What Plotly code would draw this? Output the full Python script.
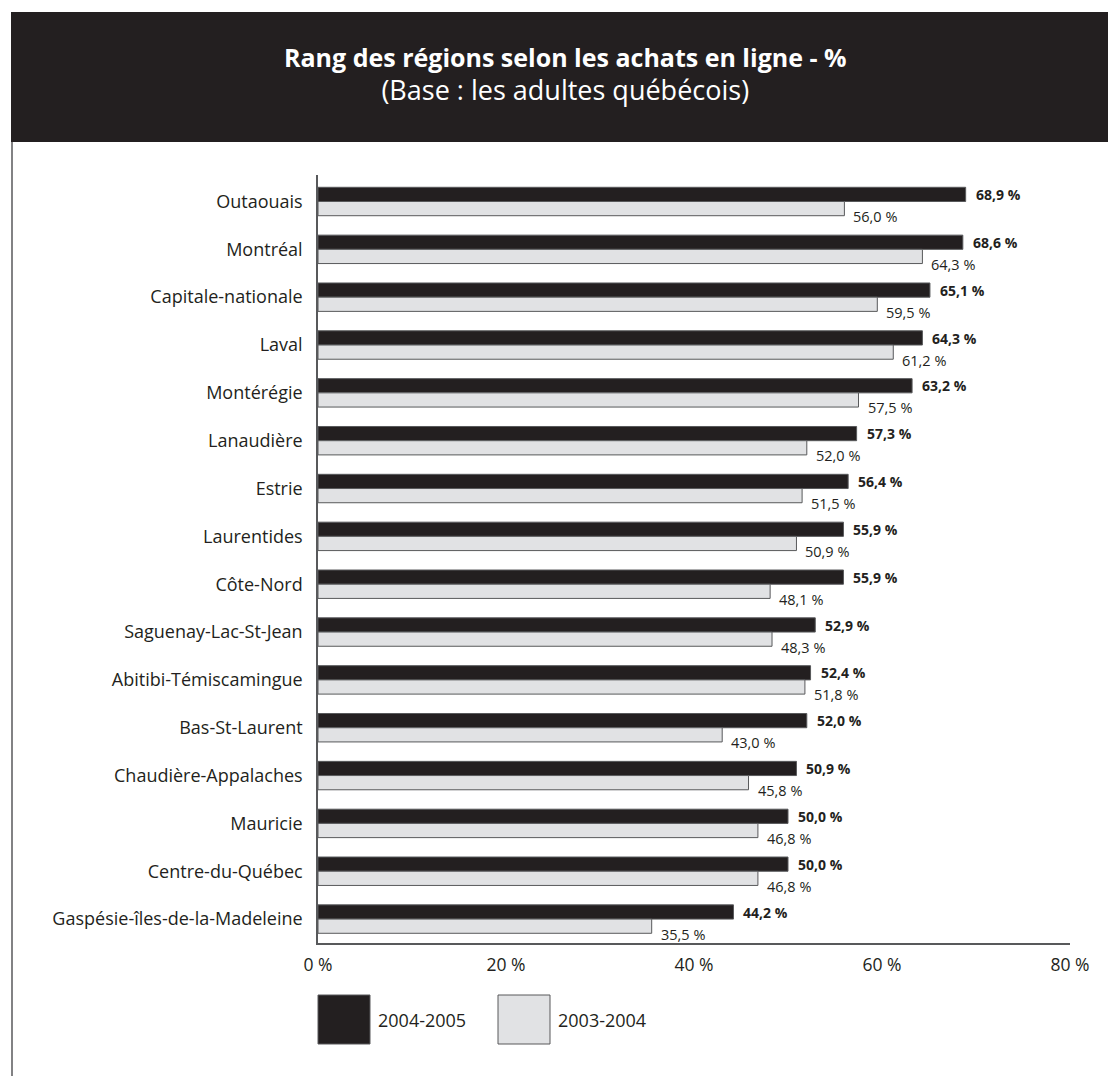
import plotly.graph_objects as go

# ---------------- data ----------------
regions = [
    "Outaouais", "Montréal", "Capitale-nationale", "Laval", "Montérégie",
    "Lanaudière", "Estrie", "Laurentides", "Côte-Nord", "Saguenay-Lac-St-Jean",
    "Abitibi-Témiscamingue", "Bas-St-Laurent", "Chaudière-Appalaches",
    "Mauricie", "Centre-du-Québec", "Gaspésie-îles-de-la-Madeleine",
]
values_2004_2005 = [68.9, 68.6, 65.1, 64.3, 63.2, 57.3, 56.4, 55.9, 55.9,
                    52.9, 52.4, 52.0, 50.9, 50.0, 50.0, 44.2]
values_2003_2004 = [56.0, 64.3, 59.5, 61.2, 57.5, 52.0, 51.5, 50.9, 48.1,
                    48.3, 51.8, 43.0, 45.8, 46.8, 46.8, 35.5]
series_names = ["2004-2005", "2003-2004"]
tick_values = [0, 20, 40, 60, 80]
tick_labels = ["0 %", "20 %", "40 %", "60 %", "80 %"]
title_text = "Rang des régions selon les achats en ligne - %"
subtitle_text = "(Base : les adultes québécois)"

# ---------------- styling ----------------
W, H = 1108, 1076
PL, PR, PT, PB = 318, 1070, 175, 943
DARK = "#231f20"
LIGHT = "#e1e2e4"
EDGE = "#58595b"
FONT = "Open Sans"


def px(x):
    return (x - PL) / (PR - PL)


def py(y):
    return (PB - y) / (PB - PT)


def fmt(v):
    return f"{v:.1f}".replace(".", ",") + " %"


fig = go.Figure()
fig.add_trace(go.Bar(
    y=regions, x=values_2004_2005, name=series_names[0], orientation="h",
    marker=dict(color=DARK, line=dict(color=EDGE, width=1)),
))
fig.add_trace(go.Bar(
    y=regions, x=values_2003_2004, name=series_names[1], orientation="h",
    marker=dict(color=LIGHT, line=dict(color=EDGE, width=1)),
))

annotations = []
for r, v in zip(regions, values_2004_2005):
    annotations.append(dict(
        x=v, y=r, xref="x", yref="y", text=f"<b>{fmt(v)}</b>", showarrow=False,
        xanchor="left", yanchor="middle", xshift=8, yshift=7,
        font=dict(family=FONT, size=14, color=DARK),
    ))
for r, v in zip(regions, values_2003_2004):
    annotations.append(dict(
        x=v, y=r, xref="x", yref="y", text=fmt(v), showarrow=False,
        xanchor="left", yanchor="middle", xshift=7, yshift=-15,
        font=dict(family=FONT, size=14.5, color=DARK),
    ))

# header text (title + subtitle as one block)
annotations.append(dict(
    x=px(565), y=py(74), xref="paper", yref="paper",
    text=(f"<span style='font-size:25px'><b>{title_text}</b></span><br>"
          f"<span style='font-size:27px'>{subtitle_text}</span>"),
    showarrow=False, xanchor="center", yanchor="middle", align="center",
    font=dict(family=FONT, size=25, color="white"),
))

# legend boxes and texts
legend_items = [(318, 370, DARK, series_names[0]), (498, 550, LIGHT, series_names[1])]
shapes = [
    dict(type="rect", xref="paper", yref="paper", x0=px(11), x1=px(1108),
         y0=py(12), y1=py(142), fillcolor=DARK, line=dict(width=0), layer="below"),
    dict(type="line", xref="paper", yref="paper", x0=px(12), x1=px(12),
         y0=py(142), y1=py(1076), line=dict(color=EDGE, width=1.5)),
]
for x0, x1, col, name in legend_items:
    shapes.append(dict(type="rect", xref="paper", yref="paper", x0=px(x0), x1=px(x1),
                       y0=py(995), y1=py(1044), fillcolor=col,
                       line=dict(color=EDGE, width=1)))
    annotations.append(dict(
        x=px(x1 + 6), y=py(1020), xref="paper", yref="paper", text=name,
        showarrow=False, xanchor="left", yanchor="middle",
        font=dict(family=FONT, size=18, color=DARK),
    ))

fig.update_layout(
    width=W, height=H, autosize=False,
    margin=dict(l=PL, r=W - PR, t=PT, b=H - PB, pad=0),
    paper_bgcolor="white", plot_bgcolor="white",
    barmode="group", bargap=0.406, bargroupgap=0,
    showlegend=False,
    annotations=annotations, shapes=shapes,
    font=dict(family=FONT, size=18, color=DARK),
)
fig.update_xaxes(
    range=[0, 80], tickvals=tick_values, ticktext=tick_labels,
    showgrid=False, zeroline=False, showline=True, linecolor=EDGE, linewidth=1.5,
    ticks="", ticklen=0, tickfont=dict(family=FONT, size=17.5, color=DARK),
    ticklabelstandoff=5, fixedrange=True,
)
fig.update_yaxes(
    autorange="reversed", showgrid=False, zeroline=False, showline=True,
    linecolor=EDGE, linewidth=1.5, ticks="", ticklen=0,
    tickfont=dict(family=FONT, size=18, color=DARK), ticklabelstandoff=10,
    fixedrange=True,
)

fig.write_html(
    "out.html",
    config={"displayModeBar": False},
    post_script="document.body.style.margin='0';document.body.style.overflow='hidden';",
)
